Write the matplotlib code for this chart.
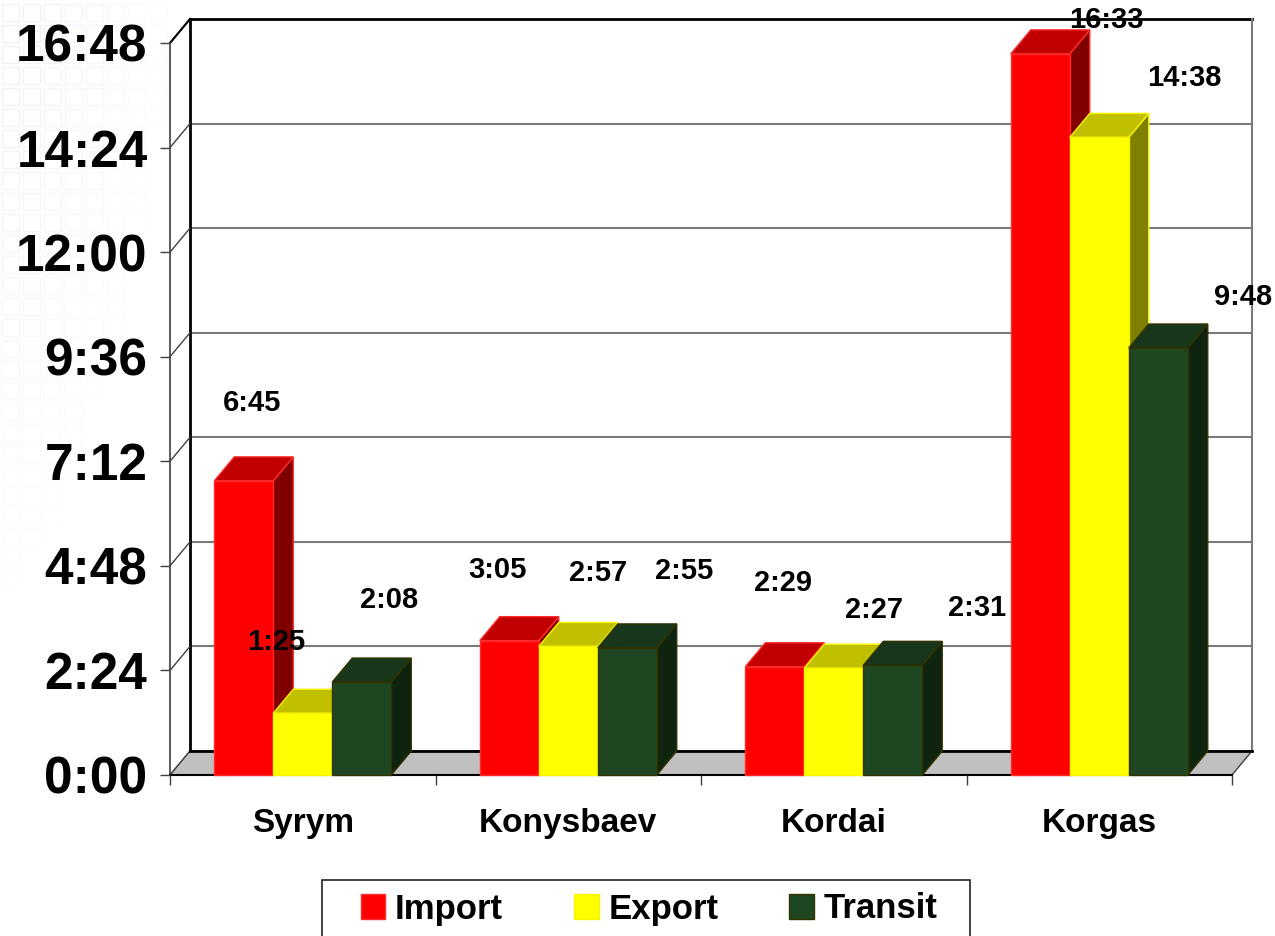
import matplotlib
matplotlib.use("Agg")
import matplotlib.pyplot as plt
from matplotlib.patches import Polygon, Rectangle, Patch

plt.rcParams['font.family'] = ['Liberation Sans', 'DejaVu Sans']

# ---- data -------------------------------------------------------------
categories = ["Syrym", "Konysbaev", "Kordai", "Korgas"]
series_names = ["Import", "Export", "Transit"]
import_times = ["6:45", "3:05", "2:29", "16:33"]
export_times = ["1:25", "2:57", "2:27", "14:38"]
transit_times = ["2:08", "2:55", "2:31", "9:48"]
y_tick_labels = ["0:00", "2:24", "4:48", "7:12", "9:36", "12:00", "14:24", "16:48"]

# ---- styling ----------------------------------------------------------
front_colors = ["#FF0000", "#FFFF00", "#1E4620"]
top_colors = ["#C00000", "#C0C000", "#18361A"]
side_colors = ["#800000", "#808000", "#0F240F"]
edge_colors = ["#FF2A2A", "#F5F500", "#333300"]

# label offsets in pixels (right, up) from the front-top centre of each bar
label_offsets = [
    [(8, 78), (-27, 71), (27, 82)],
    [(-12, 71), (30, 73), (57, 77)],
    [(8, 84), (40, 58), (84, 57)],
    [(66, 34), (85, 59), (85, 51)],
]


def to_minutes(s):
    h, m = s.split(":")
    return int(h) * 60 + int(m)


time_labels = [import_times, export_times, transit_times]
values = [[to_minutes(v) for v in col] for col in time_labels]
y_ticks = [to_minutes(t) for t in y_tick_labels]

W, H = 1275, 936
fig = plt.figure(figsize=(W / 100, H / 100), dpi=100)
fig.patch.set_facecolor("white")

# front plane of the plot box in pixels
px0, px1, py0, py1 = 170, 1232, 775, 43
ax = fig.add_axes([px0 / W, (H - py0) / H, (px1 - px0) / W, (py0 - py1) / H])
ax.set_xlim(0, 4)
ax.set_ylim(0, y_ticks[-1])
ax.patch.set_visible(False)

# depth of the 3-D box, converted from pixels to data units
DXP, DYP = 20, 24
DX = DXP * 4 / (px1 - px0)
DY = DYP * y_ticks[-1] / (py0 - py1)
ymax = y_ticks[-1]

# faint tiled decoration in the upper-left corner of the slide
for cx in range(8):
    for cy in range(29):
        fade = max(0.0, 1 - (cx / 8) ** 1.5 - (cy / 29) ** 1.2)
        if fade <= 0.05:
            continue
        fig.patches.append(Rectangle(((2 + cx * 21) / W, 1 - (4 + cy * 21 + 17) / H), 17 / W, 17 / H,
                                     transform=fig.transFigure, facecolor="none",
                                     edgecolor=(0.88, 0.91, 0.95, 0.55 * fade), lw=1, zorder=-5))

# back wall
ax.add_patch(Rectangle((DX, DY), 4, ymax, facecolor="white", edgecolor="none",
                       zorder=0.5, clip_on=False))
for t in y_ticks[1:-1]:
    ax.plot([DX, 4 + DX], [t + DY, t + DY], color="#7a7a7a", lw=1.5, zorder=0.6, clip_on=False)
ax.plot([DX, 4 + DX], [ymax + DY, ymax + DY], color="black", lw=2, zorder=0.7, clip_on=False)
ax.plot([DX, DX], [DY, ymax + DY], color="black", lw=2, zorder=0.7, clip_on=False)
ax.plot([4 + DX, 4 + DX], [DY, ymax + DY], color="#7a7a7a", lw=1.5, zorder=0.7, clip_on=False)

# side wall grid lines
for t in y_ticks:
    ax.plot([0, DX], [t, t + DY], color="#404040", lw=1, zorder=0.8, clip_on=False)
ax.plot([0, DX], [ymax, ymax + DY], color="black", lw=1.5, zorder=0.8, clip_on=False)

# floor
ax.add_patch(Polygon([(0, 0), (4, 0), (4 + DX, DY), (DX, DY)], closed=True,
                     facecolor="#C0C0C0", edgecolor="#404040", lw=1, zorder=0.9, clip_on=False))
ax.plot([DX, 4 + DX], [DY, DY], color="black", lw=2, zorder=0.95, clip_on=False)

# bars: front faces via ax.bar, tops and sides as polygons
n_series = len(series_names)
bw = 1 / (n_series + 1.5)
z = 3
for i, cat in enumerate(categories):
    for j in range(n_series):
        h = values[j][i]
        xl = i + 0.5 - n_series * bw / 2 + j * bw
        side = Polygon([(xl + bw, 0), (xl + bw + DX, DY), (xl + bw + DX, h + DY), (xl + bw, h)],
                       closed=True, facecolor=side_colors[j], edgecolor=edge_colors[j],
                       lw=1, zorder=z, clip_on=False)
        top = Polygon([(xl, h), (xl + bw, h), (xl + bw + DX, h + DY), (xl + DX, h + DY)],
                      closed=True, facecolor=top_colors[j], edgecolor=edge_colors[j],
                      lw=1, zorder=z, clip_on=False)
        ax.add_patch(side)
        ax.add_patch(top)
        ax.bar([xl], [h], width=bw, align="edge", color=front_colors[j],
               edgecolor=edge_colors[j], lw=1, zorder=z + 1, clip_on=False)
        z += 2
        ox, oy = label_offsets[i][j]
        ax.annotate(time_labels[j][i], xy=(xl + bw / 2, h), xytext=(ox, oy),
                    textcoords="offset pixels", ha="center", va="center",
                    fontsize=21, fontweight="bold", color="black", zorder=50,
                    annotation_clip=False)

# axes, ticks and labels
for s in ("top", "right"):
    ax.spines[s].set_visible(False)
ax.spines["left"].set_color("#404040")
ax.spines["left"].set_linewidth(1.2)
ax.spines["bottom"].set_color("black")
ax.spines["bottom"].set_linewidth(1.5)
ax.spines["left"].set_zorder(1)
ax.spines["bottom"].set_zorder(1)

ax.set_yticks(y_ticks)
ax.set_yticklabels(y_tick_labels, fontsize=37, fontweight="bold")
ax.tick_params(axis="y", direction="out", length=7.2, width=1, color="#404040", pad=9)

ax.set_xticks(range(len(categories) + 1))
ax.set_xticklabels([])
ax.set_xticks([i + 0.5 for i in range(len(categories))], categories, minor=True)
ax.tick_params(axis="x", which="major", direction="out", length=7.2, width=1, color="#404040")
ax.tick_params(axis="x", which="minor", length=0, pad=24, labelsize=24)
for lbl in ax.get_xticklabels(minor=True):
    lbl.set_fontweight("bold")

# legend with its frame running off the bottom edge
fig.patches.append(Rectangle((322 / W, (H - 952) / H), 648 / W, 72 / H, transform=fig.transFigure,
                             facecolor="white", edgecolor="#222222", lw=1.2, zorder=4))
handles = [Patch(facecolor=front_colors[k], edgecolor=edge_colors[k], lw=1) for k in range(n_series)]
fig.legend(handles, series_names, loc="center left", bbox_to_anchor=(361 / W, 1 - 909 / H),
           ncol=3, frameon=False, prop={"size": 25, "weight": "bold"},
           handlelength=0.7, handleheight=0.7, handletextpad=0.28, columnspacing=2.05,
           borderpad=0, borderaxespad=0)

fig.savefig("out.png", dpi=100, facecolor=fig.get_facecolor())
